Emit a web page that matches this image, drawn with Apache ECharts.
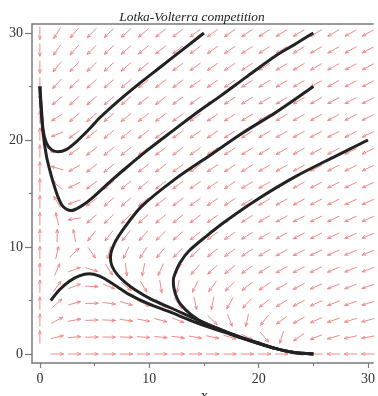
<!DOCTYPE html>
<html><head><meta charset="utf-8">
<script src="https://cdn.jsdelivr.net/npm/echarts@6/dist/echarts.min.js"></script>
<style>html,body{margin:0;padding:0;background:#fff}#c{width:378px;height:396px}</style>
</head><body><div id="c"></div>
<script>
// grid positions of the direction-field arrows (20 x 20)
const gridX = [0,1.58,3.16,4.74,6.32,7.89,9.47,11.05,12.63,14.21,15.79,17.37,18.95,20.53,22.11,23.68,25.26,26.84,28.42,30];
const gridY = [0,1.58,3.16,4.74,6.32,7.89,9.47,11.05,12.63,14.21,15.79,17.37,18.95,20.53,22.11,23.68,25.26,26.84,28.42,30];
// arrow directions (degrees, counter-clockwise from +x), one row per gridY value
const fieldAngles = [
 [null,0,0,0,0,0,0,0,0,0,0,0,0,0,0,0,180,180,180,180],
 [90,14,5,1,-1,-2,-4,-5,-7,-9,-12,-16,-26,-50,-107,-145,-158,-164,-168,-170],
 [90,28,10,2,-3,-7,-11,-15,-21,-30,-44,-69,-102,-128,-143,-151,-157,-161,-163,-165],
 [90,42,15,1,-8,-16,-26,-38,-55,-77,-101,-120,-133,-142,-148,-153,-156,-159,-161,-163],
 [90,54,21,-2,-21,-40,-60,-81,-101,-116,-127,-136,-142,-146,-150,-153,-156,-158,-159,-161],
 [90,66,20,-17,-57,-83,-101,-114,-124,-131,-137,-142,-145,-148,-151,-153,-155,-157,-158,-160],
 [90,77,45,-55,-105,-115,-123,-129,-134,-138,-141,-144,-147,-149,-151,-153,-155,-156,-157,-158],
 [90,89,100,-128,-127,-129,-132,-136,-139,-141,-144,-146,-148,-150,-151,-153,-154,-155,-157,-158],
 [90,103,-172,-139,-135,-135,-137,-139,-141,-143,-145,-147,-148,-150,-151,-153,-154,-155,-156,-157],
 [90,120,-161,-142,-139,-139,-140,-141,-143,-144,-146,-147,-149,-150,-151,-152,-153,-154,-155,-156],
 [90,141,-154,-143,-140,-140,-141,-142,-143,-145,-146,-147,-149,-150,-151,-152,-153,-154,-155,-156],
 [90,164,-150,-142,-141,-141,-142,-143,-144,-145,-146,-147,-149,-150,-151,-152,-153,-153,-154,-155],
 [90,-175,-146,-142,-141,-141,-142,-143,-144,-145,-146,-147,-148,-149,-150,-151,-152,-153,-154,-154],
 [90,-159,-143,-141,-140,-141,-142,-143,-144,-145,-146,-147,-148,-149,-150,-151,-152,-153,-153,-154],
 [90,-148,-140,-139,-140,-141,-142,-143,-144,-145,-146,-147,-148,-149,-150,-151,-151,-152,-153,-154],
 [90,-140,-138,-138,-139,-140,-142,-143,-144,-145,-146,-147,-148,-149,-149,-150,-151,-152,-152,-153],
 [-90,-133,-136,-137,-139,-140,-141,-142,-143,-145,-146,-146,-147,-148,-149,-150,-151,-151,-152,-153],
 [-90,-129,-133,-136,-138,-139,-141,-142,-143,-144,-145,-146,-147,-148,-149,-149,-150,-151,-152,-152],
 [-90,-125,-132,-135,-137,-139,-140,-142,-143,-144,-145,-146,-147,-148,-148,-149,-150,-151,-151,-152],
 [-90,-122,-130,-134,-136,-138,-140,-141,-142,-143,-145,-145,-146,-147,-148,-149,-149,-150,-151,-151]
];
// solution curves [x, y]
const curve1 = [[0,25],[0.15,22.8],[0.3,20.9],[0.6,19.7],[1.05,19.1],[1.65,18.9],[2.4,19.1],[3.3,19.8],[4.5,21.0],[5.5,22.1],[7,23.5],[9,25.2],[11,26.8],[13,28.4],[15,30]];
const curve2 = [[0,25],[0.1,23],[0.3,20.6],[0.6,18.5],[0.9,17.2],[1.2,16.1],[1.65,14.7],[2.1,13.8],[2.85,13.4],[3.75,13.8],[4.8,14.6],[6.3,16.0],[8,17.5],[9.9,19.1],[12.2,20.9],[14.4,22.6],[16.5,24.1],[18.9,25.9],[21.6,27.9],[23.4,29.0],[25,30]];
const curve3 = [[25,25],[21.6,22.6],[18.6,20.7],[15.6,18.6],[12.3,16.3],[9.3,13.8],[7.8,11.9],[6.8,10.3],[6.45,9.0],[6.6,8.2],[7.1,7.4],[7.8,6.7],[8.7,6.0],[10.2,5.1],[12.0,4.3],[14.4,3.2],[17.4,1.9],[19.8,1.05],[21.6,0.5],[23.1,0.17],[25,0]];
const curve4 = [[30,20],[27.05,18.5],[23.4,16.6],[19.8,14.4],[17.1,12.5],[15.2,11.0],[13.6,9.6],[12.8,8.5],[12.35,7.5],[12.2,6.9],[12.25,6.2],[12.5,5.3],[12.9,4.6],[13.8,3.7],[15.0,2.9],[16.5,2.3],[18.3,1.6],[19.8,1.1],[21.6,0.5],[23.1,0.17],[25,0]];
const curve5 = [[1.0,5.0],[1.8,6.0],[2.7,6.8],[3.6,7.3],[4.5,7.5],[5.4,7.3],[6.3,6.8],[7.2,6.2],[8.1,5.6],[9.9,4.7],[11.7,4.0],[14.4,2.9],[17.4,1.85],[19.8,1.05],[21.6,0.5],[23.1,0.17],[25,0]];
const majorTicks = [0,10,20,30];
const minorTicks = [5,15,25];
const titleText = 'Lotka-Volterra competition';
const xName = 'x';

const arrowData = [];
fieldAngles.forEach((row, j) => row.forEach((a, i) => { if (a !== null) arrowData.push([gridX[i], gridY[j], a]); }));

function renderArrow(params, api) {
  const p = api.coord([api.value(0), api.value(1)]);
  const a = api.value(2) * Math.PI / 180;
  const dx = Math.cos(a), dy = -Math.sin(a);
  const h = 6.5;
  const x1 = p[0] - dx * h, y1 = p[1] - dy * h, x2 = p[0] + dx * h, y2 = p[1] + dy * h;
  const hl = 4, ha = 0.38;
  const bx = -dx, by = -dy;
  const r = t => [bx * Math.cos(t) - by * Math.sin(t), bx * Math.sin(t) + by * Math.cos(t)];
  const v1 = r(ha), v2 = r(-ha);
  const st = { stroke: '#f08c8c', lineWidth: 1 };
  return { type: 'group', children: [
    { type: 'line', shape: { x1, y1, x2, y2 }, style: st },
    { type: 'line', shape: { x1: x2, y1: y2, x2: x2 + v1[0] * hl, y2: y2 + v1[1] * hl }, style: st },
    { type: 'line', shape: { x1: x2, y1: y2, x2: x2 + v2[0] * hl, y2: y2 + v2[1] * hl }, style: st }
  ]};
}

const axisGray = '#7a7a7a';
const font = '"Liberation Serif", "DejaVu Serif", serif';
const xMin = -0.72, xMax = 30.48, yMin = -0.84, yMax = 30.84;
function curveSeries(d) {
  return { type: 'line', data: d, showSymbol: false, smooth: 0.3, silent: true, z: 5,
    lineStyle: { color: '#222', width: 3 } };
}
const chart = echarts.init(document.getElementById('c'), null, { renderer: 'canvas' });
chart.setOption({
  animation: false,
  backgroundColor: '#fff',
  title: { text: titleText, left: 187, textAlign: 'center', top: 6,
    textStyle: { fontFamily: font, fontStyle: 'italic', fontWeight: 'normal', fontSize: 13.4, color: '#222' } },
  graphic: [{ type: 'text', left: 201, top: 389, style: { text: xName, font: '14px ' + font, fill: '#222' } }],
  grid: { left: 32, right: 0, top: 24, bottom: 33 },
  xAxis: [
    { type: 'value', min: xMin, max: xMax, position: 'bottom',
      axisLine: { show: true, onZero: false, lineStyle: { color: axisGray, width: 1.5 } },
      axisTick: { show: true, customValues: majorTicks, length: 5, lineStyle: { color: axisGray, width: 1.2 } },
      axisLabel: { customValues: majorTicks, fontFamily: font, fontSize: 14, color: '#333', margin: 9 },
      splitLine: { show: false } },
    { type: 'value', min: xMin, max: xMax, position: 'bottom',
      axisLine: { show: false, onZero: false },
      axisTick: { show: true, customValues: minorTicks, length: 3, lineStyle: { color: axisGray, width: 1.2 } },
      axisLabel: { show: false }, splitLine: { show: false } },
    { type: 'value', min: xMin, max: xMax, position: 'top',
      axisLine: { show: true, onZero: false, lineStyle: { color: axisGray, width: 1.5 } },
      axisTick: { show: false }, axisLabel: { show: false }, splitLine: { show: false } }
  ],
  yAxis: [
    { type: 'value', min: yMin, max: yMax, position: 'left',
      axisLine: { show: true, onZero: false, lineStyle: { color: axisGray, width: 1.5 } },
      axisTick: { show: true, customValues: majorTicks, length: 7, lineStyle: { color: axisGray, width: 1.2 } },
      axisLabel: { customValues: majorTicks, fontFamily: font, fontSize: 14, color: '#333', margin: 9 },
      splitLine: { show: false } },
    { type: 'value', min: yMin, max: yMax, position: 'left',
      axisLine: { show: false, onZero: false },
      axisTick: { show: true, customValues: minorTicks, length: 3, lineStyle: { color: axisGray, width: 1.2 } },
      axisLabel: { show: false }, splitLine: { show: false } }
  ],
  series: [
    { type: 'custom', renderItem: renderArrow, data: arrowData, silent: true, z: 2,
      encode: { x: 0, y: 1 } },
    curveSeries(curve1), curveSeries(curve2), curveSeries(curve3), curveSeries(curve4), curveSeries(curve5)
  ]
});
</script></body></html>
